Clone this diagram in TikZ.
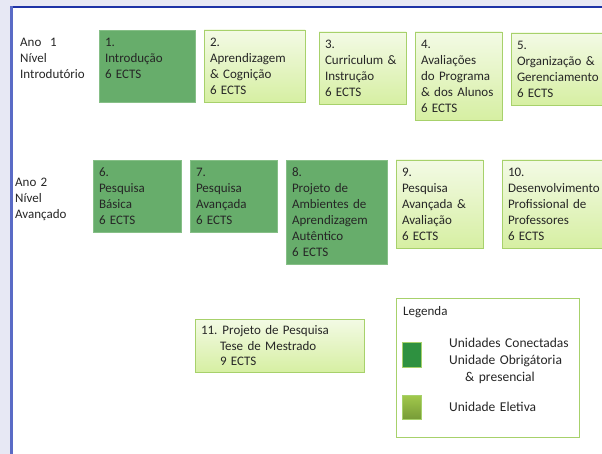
\documentclass[tikz,border=0pt]{standalone}
\usepackage{fontspec}
\setmainfont{Carlito}
\usepackage{tikz}
\usetikzlibrary{positioning}
\definecolor{bgslide}{HTML}{E7E8F4}
\definecolor{framebar}{HTML}{5A6BC6}
\definecolor{frametop}{HTML}{1E33A6}
\definecolor{obrigfill}{HTML}{67AD6B}
\definecolor{obrigedge}{HTML}{86BF87}
\definecolor{eletop}{HTML}{F3FAE5}
\definecolor{elebottom}{HTML}{D6EFA2}
\definecolor{eleedge}{HTML}{A7D16B}
\definecolor{legdark}{HTML}{2E9140}
\definecolor{legtop}{HTML}{A2C94C}
\definecolor{legbottom}{HTML}{779B37}
\tikzset{
    unit/.style={
           rectangle,
           anchor=north west,
           align=left,
           inner xsep=6pt,
           inner ysep=8pt,
           outer sep=0pt,
           text height=8.5pt,
           line width=0.8pt,
           text=black!85,
           },
    obrig/.style={
           unit,
           fill=obrigfill,
           draw=obrigedge,},
    eletiva/.style={
           unit,
           top color=eletop,
           bottom color=elebottom,
           draw=eleedge,},
    ano/.style={
           anchor=north west,
           align=left,
           text width=90pt,
           inner sep=0pt,
           text height=8.5pt,
           text=black!85,},
    swatch/.style={
           rectangle,
           anchor=north west,
           minimum width=19pt,
           inner sep=0pt,
           outer sep=0pt,
           line width=0.8pt,
           draw=eleedge,}
}
\begin{document}
\begin{tikzpicture}[x=1pt,y=-1pt,font=\fontsize{13}{16}\selectfont]
% Slide background and frame
\useasboundingbox (0,0) rectangle (602,454);
\clip (0,0) rectangle (602,454);
\fill[bgslide] (0,0) rectangle (602,454);
\fill[white] (12,8) rectangle (602,454);
\fill[frametop] (10,6) rectangle (602,8);
\fill[framebar] (10,6) rectangle (13,454);
% Year labels (ANO1, ANO2)
\node[ano] (ANO1) at (20,38) {Ano~~1\\Nível\\Introdutório};
\node[ano] (ANO2) at (15,178) {Ano 2\\Nível\\Avançado};
% Year 1 units
\node[obrig, text width=84pt, text depth=48pt] (U1) at (99,30)
{1.\\Introdução\\6 ECTS};
\node[eletiva, text width=89pt,
right=9pt of U1.north east, anchor=north west] (U2)
{2.\\Aprendizagem\\\&~Cognição\\6 ECTS};
\node[eletiva, text width=75pt,
right=14pt of U2.north east, anchor=north west, yshift=-2pt] (U3)
{3.\\Curriculum~\&\\Instrução\\6 ECTS};
\node[eletiva, text width=75pt,
right=9pt of U3.north east, anchor=north west] (U4)
{4.\\Avaliações\\do~Programa\\\&~dos~Alunos\\6 ECTS};
\node[eletiva, text width=88pt,
right=9pt of U4.north east, anchor=north west, yshift=-1pt] (U5)
{5.\\Organização~\&\\Gerenciamento\\6 ECTS};
% Year 2 units
\node[obrig, text width=76pt] (U6) at (93,160)
{6.\\Pesquisa\\Básica\\6 ECTS};
\node[obrig, text width=75pt,
right=9pt of U6.north east, anchor=north west] (U7)
{7.\\Pesquisa\\Avançada\\6 ECTS};
\node[obrig, text width=89pt,
right=9pt of U7.north east, anchor=north west] (U8)
{8.\\Projeto~de\\Ambientes~de\\Aprendizagem\\Autêntico\\6 ECTS};
\node[eletiva, text width=75pt,
right=9pt of U8.north east, anchor=north west] (U9)
{9.\\Pesquisa\\Avançada~\&\\Avaliação\\6 ECTS};
\node[eletiva, text width=88pt,
right=19pt of U9.north east, anchor=north west] (U10)
{10.\\Desenvolvimento\\Profissional~de\\Professores\\6 ECTS};
% Thesis unit
\node[eletiva, text width=157pt, inner ysep=6.5pt] (U11) at (195,319)
{11.\hspace{5pt}Projeto de Pesquisa\\\hspace*{19pt}Tese de Mestrado\\\hspace*{19pt}9 ECTS};
% Legend (LEG)
\node[rectangle, draw=eleedge, fill=white, line width=0.8pt,
anchor=north west, minimum width=183pt, minimum height=139pt,
inner sep=0pt, outer sep=0pt] (LEG) at (396,298) {};
\node[ano] (LEGT) at ([xshift=7pt, yshift=-9pt]LEG.north west) {Legenda};
\node[swatch, fill=legdark, minimum height=25pt] (SQ1)
at ([xshift=6pt, yshift=-44pt]LEG.north west) {};
\node[swatch, top color=legtop, bottom color=legbottom, minimum height=24pt] (SQ2)
at ([xshift=6pt, yshift=-97pt]LEG.north west) {};
\node[ano, text width=125pt, font=\fontsize{13.5}{17}\selectfont,
right=28pt of SQ1.north east, anchor=north west, yshift=3pt] (LEG1)
{Unidades Conectadas\\Unidade Obrigátoria\\\hspace*{16pt}\& presencial};
\node[ano, text width=100pt, font=\fontsize{13.5}{17}\selectfont,
right=28pt of SQ2] (LEG2) {Unidade Eletiva};
\end{tikzpicture}
\end{document}
